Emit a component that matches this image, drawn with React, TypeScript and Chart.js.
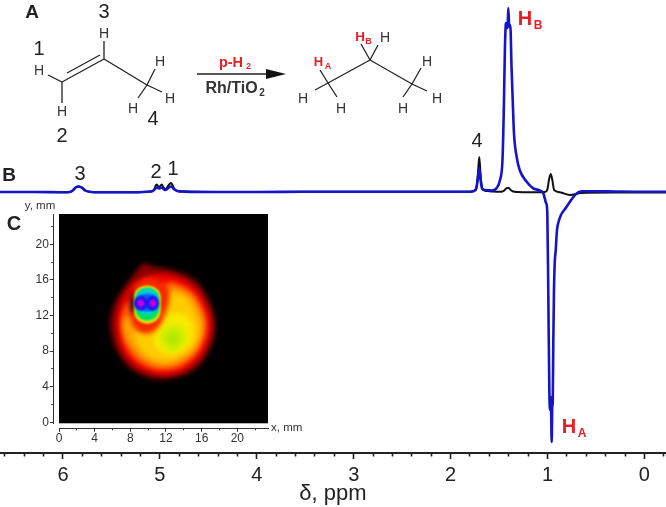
import React, { useEffect, useRef } from "react";
import { Chart, registerables } from "chart.js";

Chart.register(...registerables);

// ---- Spectrum data: chemical shift (ppm) and intensity ----
const blackPpm = [6.65, 6.3, 6.0, 5.93, 5.9, 5.87, 5.835, 5.8, 5.77, 5.73, 5.6, 5.3, 5.09, 5.06, 5.045, 5.033, 5.01, 4.98, 4.965, 4.94, 4.925, 4.9, 4.885, 4.87, 4.85, 4.82, 4.75, 4.4, 4.0, 3.5, 3.0, 2.5, 2.1, 1.8, 1.76, 1.735, 1.72, 1.704, 1.69, 1.675, 1.65, 1.6, 1.56, 1.48, 1.45, 1.43, 1.405, 1.38, 1.36, 1.3, 1.2, 1.1, 1.03, 1.01, 1.0, 0.985, 0.967, 0.95, 0.935, 0.925, 0.853, 0.768, 0.654, 0.3, -0.223];
const blackInt = [0, 0, -0.2, 0, 1.5, 4.5, 5.5, 4, 1.5, 0.3, -0.3, -0.2, 0.5, 2, 6, 7.5, 5, 7.5, 5, 3, 4.5, 8, 9, 7, 3, 1, 0.4, 0, 0, 0.2, 0.2, 0.2, 0.3, 0.3, 1, 4, 16, 35, 16, 4, 1.5, 0.8, 0.4, 0.2, 1.2, 3.2, 4.3, 2, 0.8, 0, -0.3, -0.3, 0, 1, 3, 12, 18, 12, 3, 1.5, -0.7, -3, -1, -0.5, -0.5];

const bluePpm = [6.65, 6.3, 6.0, 5.93, 5.9, 5.87, 5.835, 5.8, 5.77, 5.73, 5.6, 5.3, 5.09, 5.06, 5.033, 5.01, 4.98, 4.95, 4.925, 4.885, 4.85, 4.82, 4.75, 4.4, 4.0, 3.5, 3.0, 2.5, 2.1, 1.8, 1.76, 1.735, 1.72, 1.704, 1.69, 1.675, 1.645, 1.61, 1.576, 1.524, 1.49, 1.466, 1.456, 1.449, 1.439, 1.431, 1.428, 1.411, 1.405, 1.394, 1.384, 1.371, 1.359, 1.346, 1.318, 1.287, 1.215, 1.147, 1.077, 1.043, 1.015, 1.002, 0.992, 0.981, 0.974, 0.964, 0.957, 0.951, 0.946, 0.94, 0.933, 0.925, 0.915, 0.902, 0.889, 0.861, 0.819, 0.768, 0.706, 0.647, 0.564, 0.3, 0.1, -0.223];
const blueInt = [0, 0, -0.2, 0, 1.5, 4.5, 5.5, 4, 1.5, 0.3, -0.3, -0.2, 0.5, 2, 4.5, 3.5, 4.5, 2, 3, 5.5, 2.5, 1, 0.4, 0, 0, 0.2, 0.2, 0.2, 0.3, 0.3, 1, 3.5, 12, 24, 12, 3.5, 2, 1.7, 1.5, 4, 12, 29, 59, 92, 145, 167, 169, 164, 184, 165, 167, 125, 92, 59, 35, 22, 10.3, 3.7, 1.3, -1.3, -11, -20, -98, -198, -218, -205, -250, -215, -211, -150, -98, -70, -58, -38, -31, -23, -17, -9.7, -2, 0.7, 0.8, 0.5, 0.3, 0.2];

const ppmMajorTicks = [6, 5, 4, 3, 2, 1, 0];
const ppmMinorTicks = [6.6, 6.4, 6.2, 5.8, 5.6, 5.4, 5.2, 4.8, 4.6, 4.4, 4.2, 3.8, 3.6, 3.4, 3.2, 2.8, 2.6, 2.4, 2.2, 1.8, 1.6, 1.4, 1.2, 0.8, 0.6, 0.4, 0.2, -0.2];

// ---- Inset image: filled level regions, x / y in mm ----
const haloX = [9.45, 10.6, 12.8, 15.06, 16.75, 17.5, 16.9, 15.25, 12.45, 9.45, 7.0, 5.8, 6.25, 7.8, 8.7];
const haloY = [17.9, 17.5, 17.06, 16.08, 13.78, 10.94, 8.32, 6.02, 4.95, 5.25, 7.23, 10.5, 13.34, 15.86, 17.06];
const redX = [10.95, 12.8, 14.9, 16.4, 17.05, 16.5, 14.9, 12.45, 9.65, 7.4, 6.5, 6.9, 8.1, 9.6];
const redY = [16.68, 16.46, 15.42, 13.4, 10.94, 8.48, 6.46, 5.4, 5.8, 7.66, 10.5, 13.23, 15.26, 16.24];
const orangeX = [12.6, 14.7, 16.0, 16.55, 16.0, 14.7, 12.45, 9.85, 7.75, 7.0, 7.2, 8.3];
const orangeY = [15.86, 14.82, 13.02, 10.94, 8.7, 6.95, 5.95, 6.3, 8.1, 10.56, 12.52, 13.84];
const amberX = [12.6, 14.5, 15.75, 16.15, 15.6, 14.3, 12.25, 10.0, 8.15, 7.2, 7.6, 10.0];
const amberY = [15.2, 14.38, 12.52, 10.72, 8.7, 7.28, 6.41, 6.84, 8.54, 10.56, 11.8, 11.7];
const goldX = [12.8, 14.3, 15.25, 15.7, 15.15, 13.95, 12.05, 10.0, 8.7, 8.7, 11.3, 11.9];
const goldY = [14.66, 13.84, 12.2, 10.56, 8.7, 7.55, 6.9, 7.44, 8.9, 10.3, 10.34, 12.47];
const yellowX = [13.0, 14.5, 15.05, 14.3, 12.45, 10.95, 10.75, 11.7];
const yellowY = [12.36, 11.76, 9.9, 8.37, 7.66, 8.26, 9.85, 11.38];
const limeX = [11.2, 11.9, 13.2, 14.25, 13.75, 12.45];
const limeY = [9.52, 10.72, 10.94, 9.9, 8.48, 7.94];
const coreX = [11.9, 12.6, 13.6, 12.85];
const coreY = [9.3, 10.12, 9.52, 8.65];
const patchX = [8.35, 9.85, 11.9, 12.3, 11.7, 10.95, 9.45, 8.1];
const patchY = [15.26, 16.24, 15.42, 13.84, 11.87, 10.56, 10.0, 11.38];
const crescentX = [8.33, 8.0, 8.15, 8.5, 8.5];
const crescentY = [14.85, 13.55, 12.3, 12.4, 14.7];
const dropX = [8.4, 8.65, 9.9, 11.15, 11.4, 11.15, 9.9, 8.65];
const dropY = [13.3, 14.8, 15.35, 14.8, 13.3, 11.75, 11.1, 11.75];
const greenX = [8.55, 8.8, 9.9, 11.0, 11.25, 11.0, 9.9, 8.8];
const greenY = [13.3, 14.65, 15.15, 14.65, 13.3, 11.95, 11.4, 11.95];
const cyanX = [8.65, 8.9, 9.9, 10.9, 11.15, 10.9, 9.9, 8.9];
const cyanY = [13.5, 14.55, 15.0, 14.55, 13.5, 12.55, 12.1, 12.55];
const midX = [8.75, 9.0, 9.9, 10.8, 11.05, 10.8, 9.9, 9.0];
const midY = [13.45, 14.2, 14.45, 14.2, 13.45, 12.75, 12.45, 12.75];
const blueLX = [8.35, 8.6, 9.15, 9.7, 9.95, 9.7, 9.15, 8.6];
const blueLY = [13.37, 13.95, 14.2, 13.95, 13.37, 12.8, 12.55, 12.8];
const blueRX = [9.8, 10.0, 10.5, 11.0, 11.2, 11.0, 10.5, 10.0];
const blueRY = [13.37, 13.95, 14.2, 13.95, 13.37, 12.8, 12.55, 12.8];
const magLX = [8.7, 9.15, 9.6, 9.15];
const magLY = [13.37, 13.85, 13.37, 12.9];
const magRX = [10.05, 10.5, 10.95, 10.5];
const magRY = [13.37, 13.85, 13.37, 12.9];

const insetMajorTicks = [0, 4, 8, 12, 16, 20];
const insetMinorTicks = [2, 6, 10, 14, 18, 22];

const FONT = "'Liberation Sans', Arial, sans-serif";
const BLUE = "#1414c8";
const RED = "#ed1c24";
const INK = "#222222";

const pairs = (xs: number[], ys: number[]) => xs.map((x, i) => ({ x, y: ys[i] }));
const closed = (xs: number[], ys: number[]) => [...pairs(xs, ys), { x: xs[0], y: ys[0] }];

const levels: [number[], number[], string][] = [
  [haloX, haloY, "#8a0000"],
  [redX, redY, "#f00000"],
  [orangeX, orangeY, "#ff6400"],
  [amberX, amberY, "#ffa400"],
  [goldX, goldY, "#ffcc00"],
  [yellowX, yellowY, "#f8ea00"],
  [limeX, limeY, "#d0ee00"],
  [coreX, coreY, "#b0e800"],
  [patchX, patchY, "#f42800"],
  [crescentX, crescentY, "#200000"],
  [dropX, dropY, "#f4f400"],
  [greenX, greenY, "#00e060"],
  [cyanX, cyanY, "#00d0d8"],
  [midX, midY, "#1060f0"],
  [blueLX, blueLY, "#1414f0"],
  [blueRX, blueRY, "#1414f0"],
  [magLX, magLY, "#c800e8"],
  [magRX, magRY, "#c800e8"],
];
const SHARP_FROM = 10;

const tickValues = (vals: number[]) => (axis: any) => {
  axis.ticks = vals.map((value) => ({ value }));
};

const insetBlur = {
  id: "insetBlur",
  beforeDatasetsDraw(chart: any) {
    const { ctx, chartArea: a } = chart;
    ctx.save();
    ctx.fillStyle = "#000";
    ctx.fillRect(a.left, a.top, a.right - a.left, a.bottom - a.top);
    ctx.restore();
    ctx.filter = "blur(2.5px)";
  },
  afterDatasetDraw(chart: any, args: any) {
    chart.ctx.filter = args.index + 1 >= SHARP_FROM ? "blur(1px)" : "blur(2.5px)";
  },
  afterDatasetsDraw(chart: any) {
    chart.ctx.filter = "none";
  },
};

export default function App() {
  const mainRef = useRef<HTMLCanvasElement>(null);
  const insetRef = useRef<HTMLCanvasElement>(null);

  useEffect(() => {
    document.body.style.margin = "0";
    const main = new Chart(mainRef.current!, {
      type: "line",
      data: {
        datasets: [
          { label: "blue", data: pairs(bluePpm, blueInt), borderColor: BLUE, borderWidth: 2.6, pointRadius: 0, cubicInterpolationMode: "monotone", order: 0 },
          { label: "black", data: pairs(blackPpm, blackInt), borderColor: "#111111", borderWidth: 2, pointRadius: 0, cubicInterpolationMode: "monotone", order: 1 },
        ],
      },
      options: {
        responsive: false,
        animation: false,
        parsing: false as any,
        layout: { autoPadding: false, padding: 0 },
        plugins: { legend: { display: false }, tooltip: { enabled: false } },
        scales: {
          y: { type: "linear", display: false, min: -261, max: 192 },
          xMinor: {
            type: "linear",
            position: "bottom",
            axis: "x",
            weight: 0,
            reverse: true,
            min: -0.223,
            max: 6.65,
            afterBuildTicks: tickValues(ppmMinorTicks),
            afterFit: (a: any) => { a.height = 0; },
            ticks: { display: false },
            border: { display: false },
            grid: { drawOnChartArea: false, tickLength: 3.5, tickWidth: 1.6, tickColor: INK },
          },
          x: {
            type: "linear",
            position: "bottom",
            weight: 1,
            reverse: true,
            min: -0.223,
            max: 6.65,
            afterBuildTicks: tickValues(ppmMajorTicks),
            afterFit: (a: any) => { a.height = 54; },
            ticks: { color: INK, font: { family: FONT, size: 20 }, padding: 4, maxRotation: 0, minRotation: 0, autoSkip: false },
            border: { display: true, width: 2, color: INK },
            grid: { drawOnChartArea: false, tickLength: 6, tickWidth: 1.6, tickColor: INK },
            title: { display: true, text: "δ, ppm", color: INK, font: { family: FONT, size: 22 }, padding: { top: 0, bottom: 0 } },
          },
        },
      } as any,
    } as any);

    const inset = new Chart(insetRef.current!, {
      type: "scatter",
      data: {
        datasets: levels.map(([xs, ys, color], i) => ({
          data: closed(xs, ys),
          showLine: true,
          fill: "shape",
          backgroundColor: color,
          borderWidth: 0,
          pointRadius: 0,
          tension: 0.4,
          order: levels.length - i,
        })),
      },
      options: {
        responsive: false,
        animation: false,
        layout: { autoPadding: false, padding: { left: 0, right: 22, top: 9, bottom: 0 } },
        plugins: { legend: { display: false }, tooltip: { enabled: false } },
        scales: {
          xGap: { type: "linear", axis: "x", position: "bottom", weight: 0, min: 0, max: 23.44, ticks: { display: false }, border: { display: false }, grid: { display: false }, afterFit: (a: any) => { a.height = 5; } },
          xMinor: {
            type: "linear", axis: "x", position: "bottom", weight: 1, min: 0, max: 23.44,
            afterBuildTicks: tickValues(insetMinorTicks),
            afterFit: (a: any) => { a.height = 0; },
            ticks: { display: false },
            border: { display: false },
            grid: { drawOnChartArea: false, tickLength: 2, tickWidth: 1, tickColor: "#333" },
          },
          x: {
            type: "linear", position: "bottom", weight: 2, min: 0, max: 23.44,
            afterBuildTicks: tickValues(insetMajorTicks),
            afterFit: (a: any) => { a.height = 21.7; },
            ticks: { color: "#333", font: { family: FONT, size: 12 }, padding: 0, maxRotation: 0, minRotation: 0, autoSkip: false },
            border: { display: true, width: 1, color: "#333" },
            grid: { drawOnChartArea: false, tickLength: 3.5, tickWidth: 1, tickColor: "#333" },
          },
          yGap: { type: "linear", axis: "y", position: "left", weight: 0, min: -0.11, max: 23.4, ticks: { display: false }, border: { display: false }, grid: { display: false }, afterFit: (a: any) => { a.width = 5.7; } },
          yMinor: {
            type: "linear", axis: "y", position: "left", weight: 1, min: -0.11, max: 23.4,
            afterBuildTicks: tickValues(insetMinorTicks),
            afterFit: (a: any) => { a.width = 0; },
            ticks: { display: false },
            border: { display: false },
            grid: { drawOnChartArea: false, tickLength: 2, tickWidth: 1, tickColor: "#333" },
          },
          y: {
            type: "linear", position: "left", weight: 2, min: -0.11, max: 23.4,
            afterBuildTicks: tickValues(insetMajorTicks),
            afterFit: (a: any) => { a.width = 53.3; },
            ticks: { color: "#333", font: { family: FONT, size: 12 }, padding: 1, autoSkip: false },
            border: { display: true, width: 1, color: "#333" },
            grid: { drawOnChartArea: false, tickLength: 3.5, tickWidth: 1, tickColor: "#333" },
          },
        },
      } as any,
      plugins: [insetBlur],
    } as any);

    return () => {
      main.destroy();
      inset.destroy();
    };
  }, []);

  const bond = (x1: number, y1: number, x2: number, y2: number, key: string, w = 1.3) => (
    <line key={key} x1={x1} y1={y1} x2={x2} y2={y2} stroke={INK} strokeWidth={w} />
  );
  const label = (x: number, y: number, s: string, size: number, opts: any = {}) => (
    <text key={`${s}${x}${y}`} x={x} y={y} fontSize={size} textAnchor={opts.anchor ?? "middle"} dominantBaseline="central"
      fontWeight={opts.bold ? "bold" : "normal"} fill={opts.fill ?? INK} fontFamily={FONT}>{s}</text>
  );
  const leftBonds: [number, number, number, number][] = [
    [48, 75, 62, 82], [62, 82, 104, 59], [67, 73, 100, 55], [104, 59, 104, 41], [104, 59, 147, 85],
    [147, 85, 155, 69], [147, 85, 162, 92], [147, 85, 138, 98], [62, 82, 62, 103],
  ];
  const rightBonds: [number, number, number, number][] = [
    [315, 90, 328, 83], [328, 83, 370, 60], [370, 60, 361, 44], [370, 60, 378, 45], [370, 60, 412, 84],
    [412, 84, 421, 68], [412, 84, 427, 91], [412, 84, 403, 97], [328, 83, 320, 70], [328, 83, 337, 97],
  ];

  return (
    <div style={{ position: "absolute", left: 0, top: 0, width: 666, height: 507, background: "#fff", overflow: "hidden" }}>
      <canvas ref={mainRef} width={666} height={507} style={{ position: "absolute", left: 0, top: 0 }} />
      <canvas ref={insetRef} width={290} height={245} style={{ position: "absolute", left: 0, top: 205 }} />
      <svg width={666} height={507} style={{ position: "absolute", left: 0, top: 0 }}>
        {leftBonds.map((b, i) => bond(b[0], b[1], b[2], b[3], `l${i}`))}
        {rightBonds.map((b, i) => bond(b[0], b[1], b[2], b[3], `r${i}`))}
        <line x1={197} y1={74} x2={272} y2={74} stroke={INK} strokeWidth={1.6} />
        <polygon points="266,69 286,74 266,79" fill="#111" />
        {label(32, 11, "A", 19, { bold: true })}
        {label(9, 174, "B", 19, { bold: true })}
        {label(14, 223, "C", 20, { bold: true })}
        {label(104, 11, "3", 20)}
        {label(39, 48, "1", 20)}
        {label(62, 135, "2", 20)}
        {label(153, 118, "4", 20)}
        {label(104, 33, "H", 14, { fill: "#333" })}
        {label(39, 70, "H", 14, { fill: "#333" })}
        {label(62, 111, "H", 14, { fill: "#333" })}
        {label(160, 61, "H", 14, { fill: "#333" })}
        {label(170, 98, "H", 14, { fill: "#333" })}
        {label(133, 108, "H", 14, { fill: "#333" })}
        {label(303, 98, "H", 14, { fill: "#333" })}
        {label(341, 108, "H", 14, { fill: "#333" })}
        {label(385, 37, "H", 14, { fill: "#333" })}
        {label(427, 61, "H", 14, { fill: "#333" })}
        {label(437, 98, "H", 14, { fill: "#333" })}
        {label(403, 108, "H", 14, { fill: "#333" })}
        {label(318.5, 61, "H", 13, { bold: true, fill: RED })}
        {label(328, 66, "A", 9, { bold: true, fill: RED })}
        {label(360, 36.5, "H", 13.5, { bold: true, fill: RED })}
        {label(368.5, 41, "B", 9, { bold: true, fill: RED })}
        {label(231, 62, "p-H", 14.5, { bold: true, fill: RED })}
        {label(248.5, 66, "2", 9, { bold: true, fill: RED })}
        {label(231.5, 87, "Rh/TiO", 16, { bold: true, fill: "#333" })}
        {label(262, 92, "2", 10, { bold: true, fill: "#333" })}
        {label(80, 173, "3", 20)}
        {label(156, 171, "2", 20)}
        {label(173, 168, "1", 20)}
        {label(477, 140, "4", 20)}
        {label(525, 18, "H", 20, { bold: true, fill: RED })}
        {label(538, 25, "B", 12, { bold: true, fill: RED })}
        {label(569, 426, "H", 20, { bold: true, fill: RED })}
        {label(582, 433, "A", 12, { bold: true, fill: RED })}
        {label(40, 205, "y, mm", 11.5, { fill: "#333" })}
        {label(271, 427, "x, mm", 11.5, { fill: "#333", anchor: "start" })}
      </svg>
    </div>
  );
}
